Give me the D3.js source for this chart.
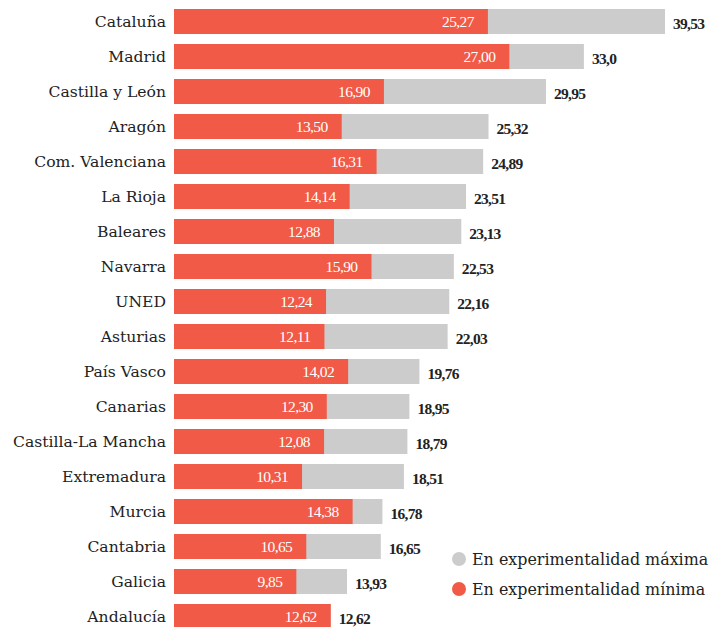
<!DOCTYPE html>
<html><head><meta charset="utf-8">
<script src="https://cdn.jsdelivr.net/npm/d3@7"></script>
<style>html,body{margin:0;padding:0;background:#fff;}</style>
</head><body>
<svg id="c" width="723" height="627"></svg>
<script>
const categories = ["Cataluña","Madrid","Castilla y León","Aragón","Com. Valenciana","La Rioja","Baleares","Navarra","UNED","Asturias","País Vasco","Canarias","Castilla-La Mancha","Extremadura","Murcia","Cantabria","Galicia","Andalucía"];
const minValues = [25.27,27.00,16.90,13.50,16.31,14.14,12.88,15.90,12.24,12.11,14.02,12.30,12.08,10.31,14.38,10.65,9.85,12.62];
const maxValues = [39.53,33.0,29.95,25.32,24.89,23.51,23.13,22.53,22.16,22.03,19.76,18.95,18.79,18.51,16.78,16.65,13.93,12.62];
const minLabels = ["25,27","27,00","16,90","13,50","16,31","14,14","12,88","15,90","12,24","12,11","14,02","12,30","12,08","10,31","14,38","10,65","9,85","12,62"];
const maxLabels = ["39,53","33,0","29,95","25,32","24,89","23,51","23,13","22,53","22,16","22,03","19,76","18,95","18,79","18,51","16,78","16,65","13,93","12,62"];
const legendLabels = ["En experimentalidad máxima","En experimentalidad mínima"];

const RED = "#f05a46", GRAY = "#cccccc";
const svg = d3.select("#c");
const x = d3.scaleLinear().domain([0, 39.53]).range([174, 665]);
const y = d3.scaleBand().domain(categories).range([4, 634]).paddingInner(10/35).paddingOuter(5/35);

const rows = svg.selectAll("g.row").data(categories).join("g").attr("class","row");
rows.append("rect").attr("x", x(0)).attr("y", d => y(d))
  .attr("width", (d,i) => x(maxValues[i]) - x(0)).attr("height", y.bandwidth()).attr("fill", GRAY);
rows.append("rect").attr("x", x(0)).attr("y", d => y(d))
  .attr("width", (d,i) => x(minValues[i]) - x(0)).attr("height", y.bandwidth()).attr("fill", RED);
rows.append("text").attr("x", 166).attr("y", d => y(d) + y.bandwidth()/2 + 5.5)
  .attr("text-anchor","end").attr("font-family","DejaVu Serif").attr("font-size",15.6).attr("fill","#222")
  .text(d => d);
rows.append("text").attr("x", (d,i) => x(minValues[i]) - 14).attr("y", d => y(d) + y.bandwidth()/2 + 5)
  .attr("text-anchor","end").attr("font-family","Liberation Serif").attr("font-size",15.5).attr("letter-spacing","-0.6").attr("fill","#fff")
  .text((d,i) => minLabels[i]);
rows.append("text").attr("x", (d,i) => x(Math.max(maxValues[i], minValues[i])) + 8).attr("y", d => y(d) + y.bandwidth()/2 + 7.5)
  .attr("text-anchor","start").attr("font-family","Liberation Serif").attr("font-weight","bold").attr("font-size",15.5).attr("letter-spacing","-0.7").attr("fill","#222")
  .text((d,i) => maxLabels[i]);

const lg = svg.append("g");
[GRAY, RED].forEach((c, i) => {
  lg.append("circle").attr("cx", 459).attr("cy", 559 + i*30).attr("r", 7).attr("fill", c);
  lg.append("text").attr("x", 472).attr("y", 564.5 + i*30).attr("font-family","DejaVu Serif").attr("font-size",15.9).attr("fill","#222").text(legendLabels[i]);
});
</script>
</body></html>
